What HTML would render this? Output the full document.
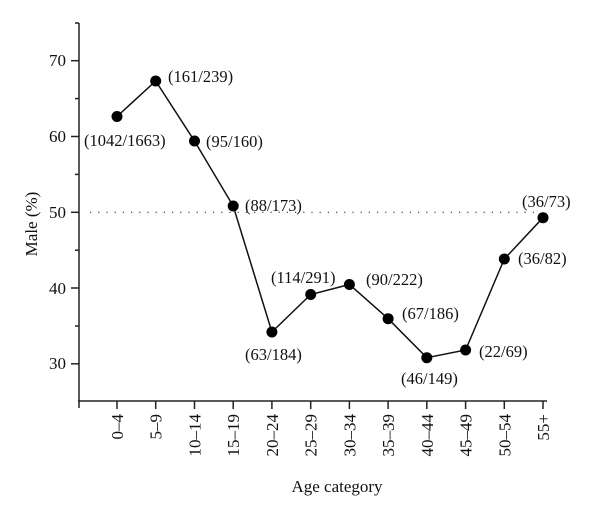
<!DOCTYPE html>
<html><head><meta charset="utf-8"><style>body{margin:0;background:#fff}svg{display:block}text{font-family:"Liberation Serif",serif;fill:#111}</style></head><body>
<svg width="600" height="518" viewBox="0 0 600 518" xmlns="http://www.w3.org/2000/svg">
<g stroke="#222" stroke-width="1.5" fill="none">
<line x1="79" y1="23" x2="79" y2="402"/>
<line x1="78" y1="401" x2="547" y2="401"/>
<line x1="71" y1="60.7" x2="79" y2="60.7"/><line x1="71" y1="136.5" x2="79" y2="136.5"/><line x1="71" y1="212.3" x2="79" y2="212.3"/><line x1="71" y1="288" x2="79" y2="288"/><line x1="71" y1="363.8" x2="79" y2="363.8"/>
<line x1="75" y1="23" x2="79" y2="23"/><line x1="75" y1="98.6" x2="79" y2="98.6"/><line x1="75" y1="174.4" x2="79" y2="174.4"/><line x1="75" y1="250.2" x2="79" y2="250.2"/><line x1="75" y1="326" x2="79" y2="326"/>
<line x1="79" y1="401" x2="79" y2="408"/>
<line x1="117" y1="401" x2="117" y2="409"/><line x1="155.7" y1="401" x2="155.7" y2="409"/><line x1="194.5" y1="401" x2="194.5" y2="409"/><line x1="233.2" y1="401" x2="233.2" y2="409"/><line x1="271.9" y1="401" x2="271.9" y2="409"/><line x1="310.7" y1="401" x2="310.7" y2="409"/><line x1="349.4" y1="401" x2="349.4" y2="409"/><line x1="388.1" y1="401" x2="388.1" y2="409"/><line x1="426.8" y1="401" x2="426.8" y2="409"/><line x1="465.6" y1="401" x2="465.6" y2="409"/><line x1="504.3" y1="401" x2="504.3" y2="409"/><line x1="543" y1="401" x2="543" y2="409"/>
</g>
<line x1="90" y1="212.3" x2="540" y2="212.3" stroke="#333" stroke-width="1.2" stroke-dasharray="1.2,7"/>
<polyline fill="none" stroke="#111" stroke-width="1.5" points="117,116.5 155.7,81 194.5,141 233.2,206 271.9,332 310.7,294.5 349.4,284.5 388.1,318.7 426.8,357.7 465.6,350 504.3,259 543,217.7"/>
<g fill="#000">
<circle cx="117" cy="116.5" r="5.5"/><circle cx="155.7" cy="81" r="5.5"/><circle cx="194.5" cy="141" r="5.5"/><circle cx="233.2" cy="206" r="5.5"/><circle cx="271.9" cy="332" r="5.5"/><circle cx="310.7" cy="294.5" r="5.5"/><circle cx="349.4" cy="284.5" r="5.5"/><circle cx="388.1" cy="318.7" r="5.5"/><circle cx="426.8" cy="357.7" r="5.5"/><circle cx="465.6" cy="350" r="5.5"/><circle cx="504.3" cy="259" r="5.5"/><circle cx="543" cy="217.7" r="5.5"/>
</g>
<g font-size="17" text-anchor="end">
<text x="66" y="66">70</text><text x="66" y="142">60</text><text x="66" y="218">50</text><text x="66" y="294">40</text><text x="66" y="369">30</text>
</g>
<g font-size="16.5">
<text x="84" y="146">(1042/1663)</text>
<text x="168" y="82">(161/239)</text>
<text x="206" y="147">(95/160)</text>
<text x="245" y="211">(88/173)</text>
<text x="245" y="360">(63/184)</text>
<text x="271" y="283">(114/291)</text>
<text x="366" y="285">(90/222)</text>
<text x="402" y="319">(67/186)</text>
<text x="401" y="384">(46/149)</text>
<text x="479" y="357">(22/69)</text>
<text x="518" y="264">(36/82)</text>
<text x="522" y="207">(36/73)</text>
</g>
<g font-size="17" text-anchor="end">
<text transform="translate(123,414) rotate(-90)">0–4</text>
<text transform="translate(161.7,414) rotate(-90)">5–9</text>
<text transform="translate(200.5,414) rotate(-90)">10–14</text>
<text transform="translate(239.2,414) rotate(-90)">15–19</text>
<text transform="translate(277.9,414) rotate(-90)">20–24</text>
<text transform="translate(316.7,414) rotate(-90)">25–29</text>
<text transform="translate(355.4,414) rotate(-90)">30–34</text>
<text transform="translate(394.1,414) rotate(-90)">35–39</text>
<text transform="translate(432.8,414) rotate(-90)">40–44</text>
<text transform="translate(471.6,414) rotate(-90)">45–49</text>
<text transform="translate(510.3,414) rotate(-90)">50–54</text>
<text transform="translate(549,414) rotate(-90)">55+</text>
</g>
<text x="337" y="492" font-size="17" text-anchor="middle">Age category</text>
<text transform="translate(37,224) rotate(-90)" font-size="17" text-anchor="middle">Male (%)</text>
</svg>
</body></html>
